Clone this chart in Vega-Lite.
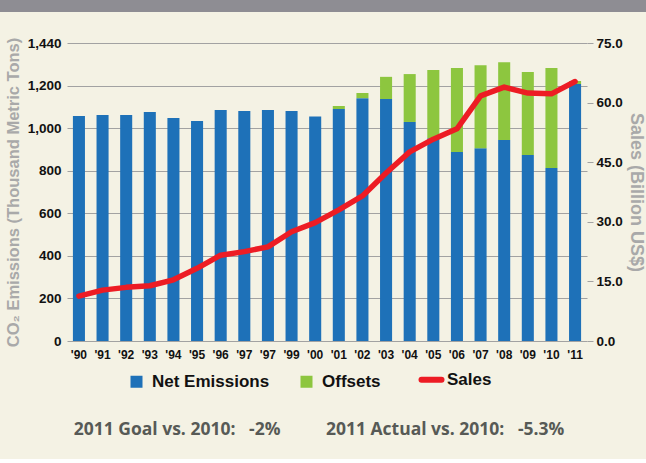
{
  "$schema": "https://vega.github.io/schema/vega-lite/v6.json",
  "background": "#f4f2e4",
  "padding": {"left": 0, "top": 0, "right": 0, "bottom": 20},
  "spacing": 24,
  "title": {
    "text": "2011 Goal vs. 2010:\u00a0\u00a0\u00a0-2%\u00a0\u00a0\u00a0\u00a0\u00a0\u00a0\u00a0\u00a0\u00a0\u00a02011 Actual vs. 2010:\u00a0\u00a0\u00a0-5.3%",
    "orient": "bottom",
    "anchor": "middle",
    "font": "Open Sans",
    "fontSize": 17.5,
    "fontWeight": "bold",
    "color": "#575a56",
    "offset": 29,
    "dx": -4
  },
  "datasets": {
    "emissions": [
      {"year": "1990", "series": "Net Emissions", "kt": 1057},
      {"year": "1991", "series": "Net Emissions", "kt": 1062},
      {"year": "1992", "series": "Net Emissions", "kt": 1062},
      {"year": "1993", "series": "Net Emissions", "kt": 1076},
      {"year": "1994", "series": "Net Emissions", "kt": 1048},
      {"year": "1995", "series": "Net Emissions", "kt": 1034},
      {"year": "1996", "series": "Net Emissions", "kt": 1085},
      {"year": "1997", "series": "Net Emissions", "kt": 1081},
      {"year": "1998", "series": "Net Emissions", "kt": 1085},
      {"year": "1999", "series": "Net Emissions", "kt": 1081},
      {"year": "2000", "series": "Net Emissions", "kt": 1055},
      {"year": "2001", "series": "Net Emissions", "kt": 1090},
      {"year": "2002", "series": "Net Emissions", "kt": 1141},
      {"year": "2003", "series": "Net Emissions", "kt": 1137},
      {"year": "2004", "series": "Net Emissions", "kt": 1029},
      {"year": "2005", "series": "Net Emissions", "kt": 953},
      {"year": "2006", "series": "Net Emissions", "kt": 888},
      {"year": "2007", "series": "Net Emissions", "kt": 906},
      {"year": "2008", "series": "Net Emissions", "kt": 944},
      {"year": "2009", "series": "Net Emissions", "kt": 874},
      {"year": "2010", "series": "Net Emissions", "kt": 813},
      {"year": "2011", "series": "Net Emissions", "kt": 1207},
      {"year": "2001", "series": "Offsets", "kt": 14},
      {"year": "2002", "series": "Offsets", "kt": 24},
      {"year": "2003", "series": "Offsets", "kt": 104},
      {"year": "2004", "series": "Offsets", "kt": 225},
      {"year": "2005", "series": "Offsets", "kt": 320},
      {"year": "2006", "series": "Offsets", "kt": 394},
      {"year": "2007", "series": "Offsets", "kt": 390},
      {"year": "2008", "series": "Offsets", "kt": 366},
      {"year": "2009", "series": "Offsets", "kt": 390},
      {"year": "2010", "series": "Offsets", "kt": 469},
      {"year": "2011", "series": "Offsets", "kt": 14}
    ],
    "sales": [
      {"year": "1990", "series": "Sales", "usd": 11.3},
      {"year": "1991", "series": "Sales", "usd": 12.8},
      {"year": "1992", "series": "Sales", "usd": 13.5},
      {"year": "1993", "series": "Sales", "usd": 13.9},
      {"year": "1994", "series": "Sales", "usd": 15.4},
      {"year": "1995", "series": "Sales", "usd": 18.3},
      {"year": "1996", "series": "Sales", "usd": 21.6},
      {"year": "1997", "series": "Sales", "usd": 22.5},
      {"year": "1998", "series": "Sales", "usd": 23.7},
      {"year": "1999", "series": "Sales", "usd": 27.5},
      {"year": "2000", "series": "Sales", "usd": 29.8},
      {"year": "2001", "series": "Sales", "usd": 33.0},
      {"year": "2002", "series": "Sales", "usd": 36.5},
      {"year": "2003", "series": "Sales", "usd": 42.3},
      {"year": "2004", "series": "Sales", "usd": 47.6},
      {"year": "2005", "series": "Sales", "usd": 50.8},
      {"year": "2006", "series": "Sales", "usd": 53.4},
      {"year": "2007", "series": "Sales", "usd": 61.7},
      {"year": "2008", "series": "Sales", "usd": 63.9},
      {"year": "2009", "series": "Sales", "usd": 62.4},
      {"year": "2010", "series": "Sales", "usd": 62.2},
      {"year": "2011", "series": "Sales", "usd": 65.3}
    ]
  },
  "vconcat": [
    {
      "width": 646,
      "height": 12,
      "view": {"fill": "#8e8d93", "stroke": null},
      "data": {"values": [{"t": ""}]},
      "mark": {"type": "text"},
      "encoding": {"text": {"field": "t", "type": "nominal"}}
    },
    {
      "spacing": 4,
      "hconcat": [
        {
          "width": 1,
          "height": 1,
          "view": {"stroke": null},
          "data": {"values": [{"t": ""}]},
          "mark": {"type": "text"},
          "encoding": {"text": {"field": "t", "type": "nominal"}}
        },
        {
          "width": 520,
          "height": 298,
          "view": {"stroke": null},
          "layer": [
            {
              "data": {"name": "emissions"},
              "mark": {"type": "bar"},
              "encoding": {
                "x": {
                  "field": "year",
                  "type": "ordinal",
                  "scale": {"paddingInner": 0.49, "paddingOuter": 0.25},
                  "axis": {
                    "title": null,
                    "labelAngle": 0,
                    "labelExpr": "datum.value === '1998' ? \"'97\" : \"'\" + substring(datum.value, 2)",
                    "ticks": false,
                    "domain": false,
                    "labelFont": "Liberation Sans",
                    "labelFontSize": 12,
                    "labelFontWeight": "bold",
                    "labelColor": "#111111",
                    "labelPadding": 8
                  }
                },
                "y": {
                  "field": "kt",
                  "type": "quantitative",
                  "stack": "zero",
                  "scale": {"domain": [0, 1400], "nice": false},
                  "axis": {
                    "values": [0, 200, 400, 600, 800, 1000, 1200, 1400],
                    "labelExpr": "datum.value === 1400 ? '1,440' : format(datum.value, ',')",
                    "grid": true,
                    "gridColor": "#a2a2a2",
                    "gridWidth": 1,
                    "ticks": false,
                    "domain": false,
                    "labelFont": "Liberation Sans",
                    "labelFontSize": 13.5,
                    "labelFontWeight": "bold",
                    "labelColor": "#111111",
                    "labelPadding": 6,
                    "title": "CO₂ Emissions (Thousand Metric Tons)",
                    "titleFont": "Liberation Sans",
                    "titleFontSize": 16.5,
                    "titleFontWeight": "bold",
                    "titleColor": "#a9a9a9",
                    "titlePadding": 6
                  }
                },
                "order": {"field": "series", "type": "nominal", "sort": "ascending"},
                "color": {
                  "field": "series",
                  "type": "nominal",
                  "scale": {
                    "domain": ["Net Emissions", "Offsets", "Sales"],
                    "range": ["#1e71b8", "#8dc63f", "#ed1c24"]
                  },
                  "legend": {
                    "orient": "none",
                    "legendX": 128,
                    "legendY": 371,
                    "direction": "horizontal",
                    "title": null,
                    "labelFont": "Liberation Sans",
                    "labelFontSize": 17,
                    "labelFontWeight": "bold",
                    "labelColor": "#111111",
                    "labelOffset": 7,
                    "columnPadding": 28,
                    "symbolSize": 600,
                    "encode": {
                      "symbols": {
                        "update": {
                          "shape": {"signal": "datum.value === 'Sales' ? 'stroke' : 'square'"},
                          "size": {"signal": "datum.value === 'Sales' ? 400 : 144"},
                          "strokeWidth": {"signal": "datum.value === 'Sales' ? 6 : 0"},
                          "stroke": {"signal": "scale('color', datum.value)"},
                          "fill": {"signal": "scale('color', datum.value)"},
                          "opacity": {"value": 1},
                          "strokeCap": {"value": "round"}
                        }
                      }
                    }
                  }
                }
              }
            },
            {
              "data": {"name": "sales"},
              "mark": {"type": "line", "strokeWidth": 5.5, "strokeCap": "round", "strokeJoin": "round"},
              "encoding": {
                "x": {"field": "year", "type": "ordinal"},
                "y": {
                  "field": "usd",
                  "type": "quantitative",
                  "scale": {"domain": [0, 75], "nice": false},
                  "axis": {
                    "orient": "right",
                    "values": [0, 15, 30, 45, 60, 75],
                    "format": ".1f",
                    "grid": false,
                    "ticks": true,
                    "tickSize": 6,
                    "tickColor": "#a2a2a2",
                    "domain": false,
                    "labelFont": "Liberation Sans",
                    "labelFontSize": 13.5,
                    "labelFontWeight": "bold",
                    "labelColor": "#111111",
                    "labelPadding": 3,
                    "title": "Sales (Billion US$)",
                    "titleFont": "Liberation Sans",
                    "titleFontSize": 18,
                    "titleFontWeight": "bold",
                    "titleColor": "#a9a9a9",
                    "titlePadding": 4
                  }
                },
                "color": {"field": "series", "type": "nominal"}
              }
            }
          ],
          "resolve": {"scale": {"y": "independent"}}
        }
      ]
    }
  ]
}
